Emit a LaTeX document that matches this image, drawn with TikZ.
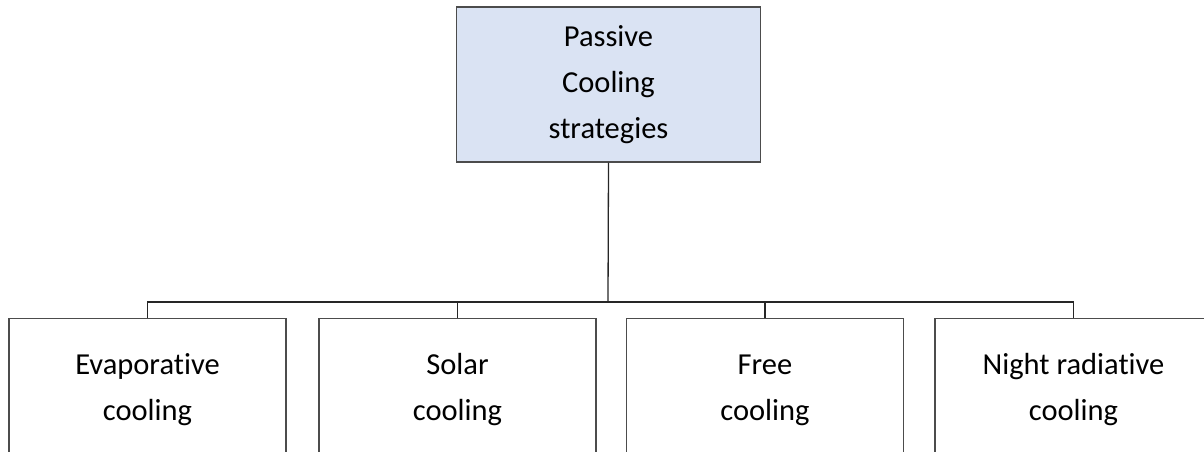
\documentclass[tikz,border=0pt]{standalone}
\usepackage{fontspec}
\setmainfont[Ligatures=NoCommon]{Carlito}
\begin{document}
\begin{tikzpicture}[x=1pt,y=-1pt,
  boxtext/.style={font=\fontsize{30.5}{46}\selectfont, align=center, text=black},
  topbox/.style={draw=black!70, line width=1.2pt, fill=topfill, minimum width=304pt, minimum height=155pt, inner sep=0pt},
  leafbox/.style={draw=black!70, line width=1.2pt, fill=white, minimum width=277pt, minimum height=200pt, anchor=north, inner sep=0pt},
  link/.style={draw=black!85, line width=1.3pt}
]
\definecolor{topfill}{HTML}{DAE3F3}
\useasboundingbox (0,0) rectangle (1204,452);
\clip (0,0) rectangle (1204,452);

% root of the tree
\node[topbox, boxtext] (root) at (608.5,84.5) {Passive\\Cooling\\strategies};

% junction on the horizontal bus
\coordinate (bus) at (608,302);

% leaf boxes
\node[leafbox] (b1) at (147.5,318) {};
\node[leafbox] (b2) at (457.5,318) {};
\node[leafbox] (b3) at (765,318) {};
\node[leafbox] (b4) at (1073.5,318) {};

% leaf labels
\node[boxtext] (t1) at ([yshift=-72pt]b1.north) {Evaporative\\cooling};
\node[boxtext] (t2) at ([yshift=-72pt]b2.north) {Solar\\cooling};
\node[boxtext] (t3) at ([yshift=-72pt]b3.north) {Free\\cooling};
\node[boxtext] (t4) at ([yshift=-72pt]b4.north) {Night radiative\\cooling};

% connectors
\draw[link] (root.south) -- (bus);
\draw[link] (b1.north) |- (bus) -| (b4.north);
\draw[link] (b2.north) -- (b2.north |- bus);
\draw[link] (b3.north) -- (b3.north |- bus);
\end{tikzpicture}
\end{document}
